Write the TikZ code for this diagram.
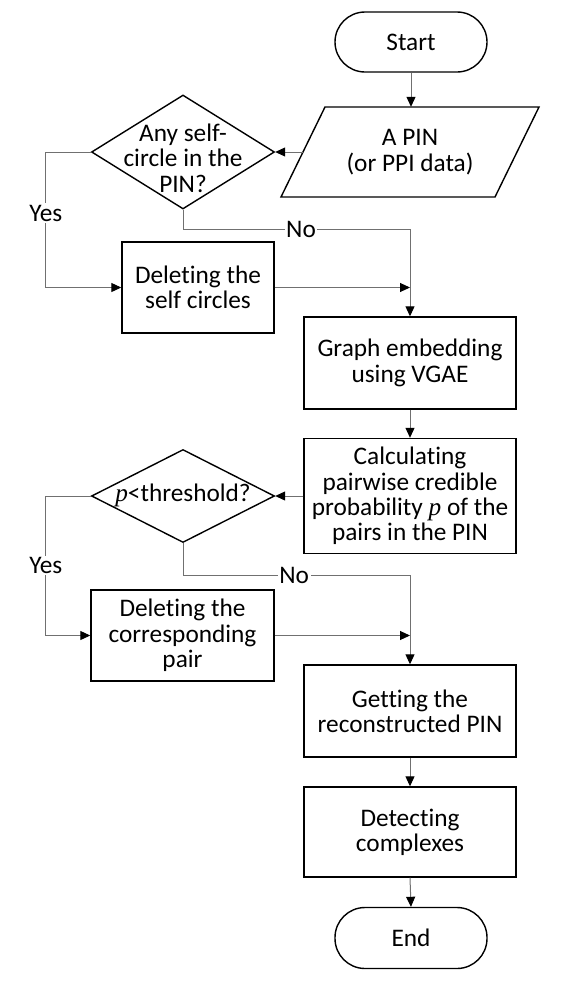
\documentclass[tikz,border=0pt]{standalone}
\usepackage{fontspec}
\setmainfont{Carlito}[Ligatures={NoCommon}]
\newfontfamily\pfont{Liberation Serif}
\usetikzlibrary{shapes.geometric,arrows.meta,calc}
\newcommand{\pv}{{\pfont\itshape p}}
\definecolor{linegray}{HTML}{707070}
\begin{document}
\begin{tikzpicture}[x=1pt,y=-1pt,
  txt/.style={align=center,inner sep=0pt,font=\fontsize{25.3}{25.3}\selectfont},
  box/.style={draw=black,line width=1.4pt,inner sep=0pt,txt},
  term/.style={box,rounded corners=30pt,minimum width=152pt,minimum height=60pt},
  dia/.style={diamond,draw=black,line width=1.4pt,inner sep=0pt},
  conn/.style={draw=linegray,line width=1pt},
  arr/.style={conn,-{Triangle[length=10pt,width=9pt,color=black]}},
  lbl/.style={fill=white,inner sep=1.5pt,font=\fontsize{25.3}{25.3}\selectfont}
]
\useasboundingbox (0,0) rectangle (570,988);

% nodes
\node[term] (start) at (411,42) {Start};
\node[txt,minimum width=170pt,minimum height=90pt] (pin) at (410,152) {A PIN\\(or PPI data)};
\draw[line width=1.4pt] (325,107) -- (539,107) -- (495,197) -- (281,197) -- cycle;
\coordinate (pinW) at (303,152);

\node[dia,minimum width=183pt,minimum height=114pt] (d1) at (183,152) {};
\node[txt] (d1t) at ([yshift=-6pt]d1.center) {Any self-\\circle in the\\PIN?};

\node[box,minimum width=152pt,minimum height=91pt] (del1) at (198,287.5) {Deleting the\\self circles};
\node[box,minimum width=212pt,minimum height=92pt] (ge) at (410,363) {Graph embedding\\using VGAE};
\node[box,minimum width=212pt,minimum height=115pt] (calc) at (410,496) {Calculating\\pairwise credible\\probability \pv{} of the\\pairs in the PIN};

\node[dia,minimum width=183pt,minimum height=93pt] (d2) at (183,496) {};
\node[txt] (d2t) at ([yshift=1pt]d2.center) {\pv{}<threshold?};

\node[box,minimum width=183pt,minimum height=91pt] (del2) at (182.5,635.5) {Deleting the\\corresponding\\pair};
\node[box,minimum width=212pt,minimum height=92pt] (get) at (410,711) {Getting the\\reconstructed PIN};
\node[box,minimum width=212pt,minimum height=90pt] (det) at (410,832) {Detecting\\complexes};
\node[term,minimum height=61pt] (end) at (411,938) {End};

\coordinate (n1) at (410,229);
\coordinate (n2) at (410,575);

% connectors
\draw[arr] (start.south) -- (start.south |- pin.north);
\draw[arr] (pinW) -- (d1.east);
\draw[arr] (d1.west) -- ++(-45,0) -- node[lbl,pos=0.45]{Yes} ++(0,135.5) -- (del1.west);
\draw[conn] (d1.south) |- node[lbl,pos=0.76]{No} (n1);
\draw[arr] (n1) -- (ge.north);
\draw[arr] (del1.east) -- (del1.east -| n1);
\draw[arr] (ge.south) -- (calc.north);
\draw[arr] (calc.west) -- (d2.east);
\draw[arr] (d2.west) -- ++(-45,0) -- node[lbl,pos=0.5]{Yes} ++(0,139.5) -- (del2.west);
\draw[conn] (d2.south) |- node[lbl,pos=0.745]{No} (n2);
\draw[arr] (n2) -- (get.north);
\draw[arr] (del2.east) -- (del2.east -| n2);
\draw[arr] (get.south) -- (det.north);
\draw[arr] (det.south) -- (end.north);
\end{tikzpicture}
\end{document}
